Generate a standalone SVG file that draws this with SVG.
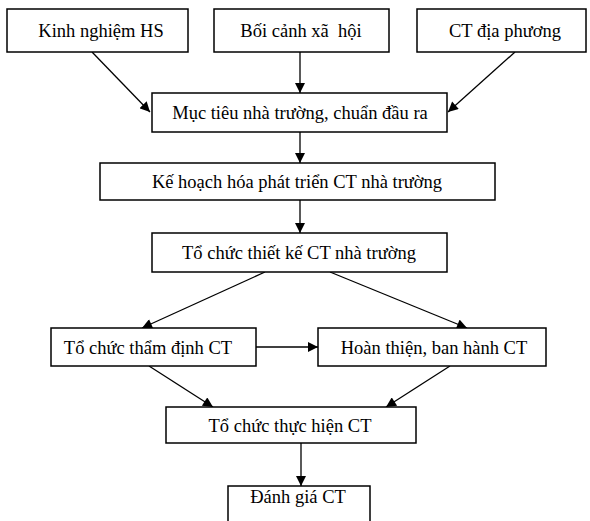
<svg xmlns="http://www.w3.org/2000/svg" width="590" height="521" viewBox="0 0 590 521">
<defs>
<style>
.box{fill:#fff;stroke:#000;stroke-width:1.5}
.t{font-family:"Liberation Serif","Times New Roman",serif;font-size:18.5px;fill:#000;text-anchor:middle}
.c{stroke:#000;stroke-width:1.3;fill:none;marker-end:url(#ah)}
</style>
<marker id="ah" viewBox="0 0 10 10" refX="10" refY="5" markerWidth="11" markerHeight="10" markerUnits="userSpaceOnUse" orient="auto">
<path d="M0,0 L10,5 L0,10 z" fill="#000"/>
</marker>
</defs>
<rect width="590" height="521" fill="#fff"/>
<g id="connectors">
<line class="c" x1="92" y1="52" x2="150" y2="112"/>
<line class="c" x1="300" y1="52" x2="300" y2="93"/>
<line class="c" x1="515" y1="52" x2="448" y2="112"/>
<line class="c" x1="300" y1="132" x2="300" y2="163"/>
<line class="c" x1="300" y1="200" x2="300" y2="233"/>
<line class="c" x1="265" y1="272" x2="142" y2="328"/>
<line class="c" x1="330" y1="272" x2="467" y2="328"/>
<line class="c" x1="256" y1="347" x2="318" y2="347"/>
<line class="c" x1="149" y1="366" x2="213" y2="407"/>
<line class="c" x1="450" y1="366" x2="386" y2="407"/>
<line class="c" x1="301" y1="443" x2="301" y2="486"/>
</g>
<g id="n1"><rect class="box" x="7" y="9" width="181" height="43"/><text class="t" x="101" y="37">Kinh nghiệm HS</text></g>
<g id="n2"><rect class="box" x="214" y="9" width="175" height="43"/><text class="t" x="301" y="37" xml:space="preserve">Bối cảnh xã  hội</text></g>
<g id="n3"><rect class="box" x="417" y="9" width="169" height="43"/><text class="t" x="505" y="37">CT địa phương</text></g>
<g id="n4"><rect class="box" x="152" y="93" width="295" height="39"/><text class="t" x="300" y="119">Mục tiêu nhà trường, chuẩn đầu ra</text></g>
<g id="n5"><rect class="box" x="100" y="163" width="395" height="37"/><text class="t" x="297" y="188">Kế hoạch hóa phát triển CT nhà trường</text></g>
<g id="n6"><rect class="box" x="152" y="233" width="295" height="39"/><text class="t" x="299" y="259">Tổ chức thiết kế CT nhà trường</text></g>
<g id="n7"><rect class="box" x="51" y="328" width="205" height="38"/><text class="t" x="148" y="354">Tổ chức thẩm định CT</text></g>
<g id="n8"><rect class="box" x="318" y="328" width="228" height="38"/><text class="t" x="434" y="354">Hoàn thiện, ban hành CT</text></g>
<g id="n9"><rect class="box" x="166" y="407" width="250" height="36"/><text class="t" x="290" y="432">Tổ chức thực hiện CT</text></g>
<g id="n10"><rect class="box" x="228" y="486" width="142" height="40"/><text class="t" x="298" y="503">Đánh giá CT</text></g>
</svg>
